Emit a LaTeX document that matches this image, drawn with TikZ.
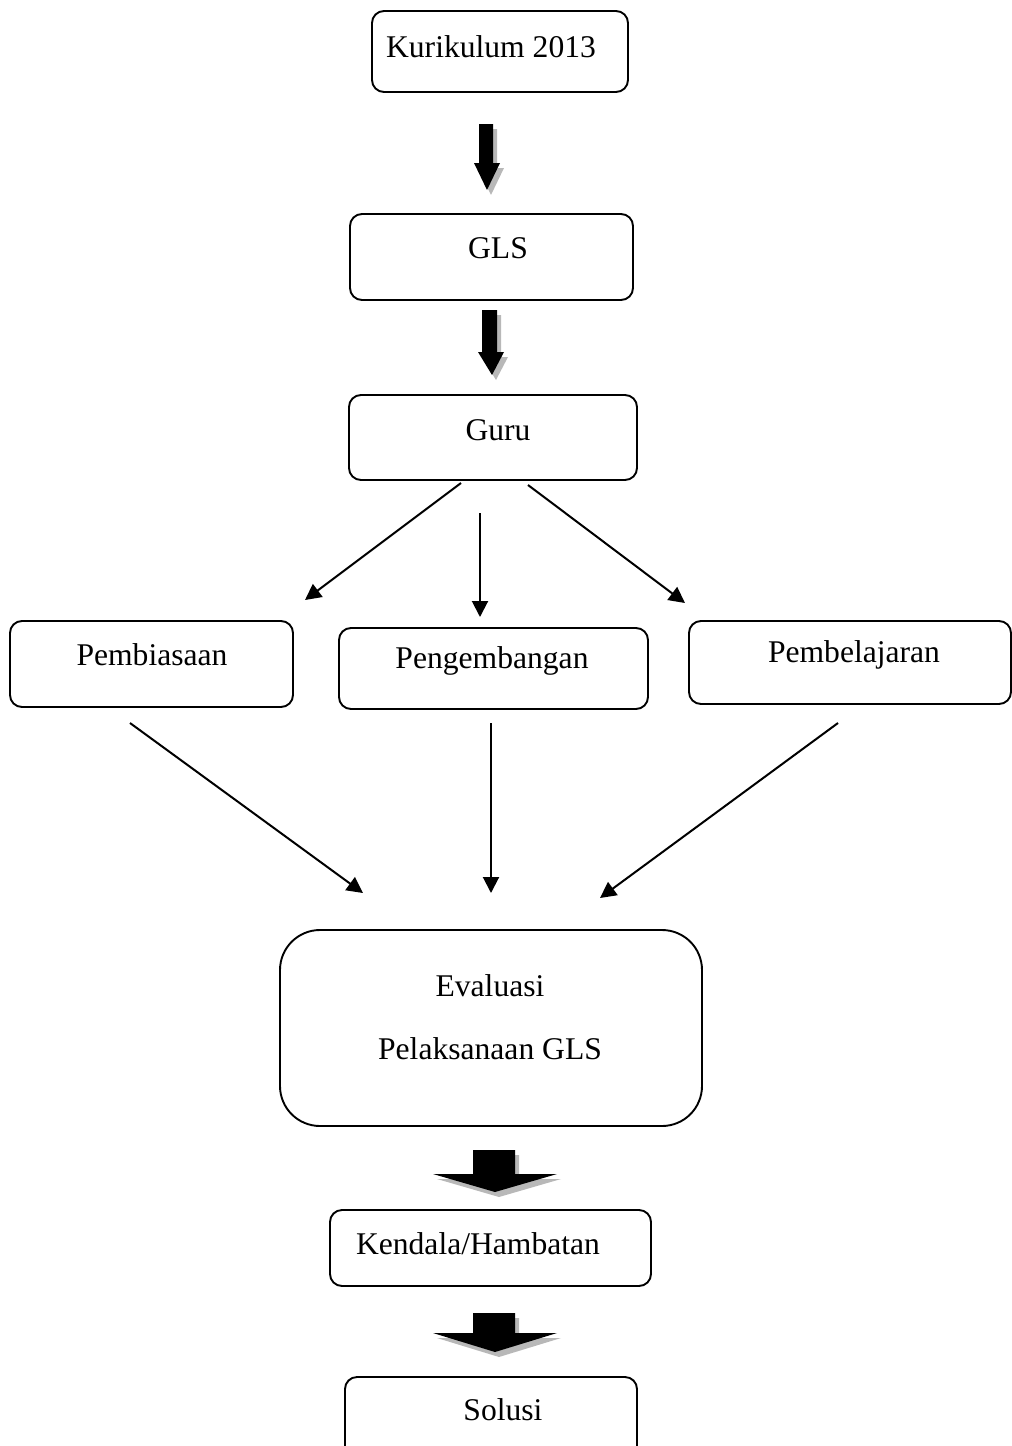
\documentclass[tikz,border=0pt]{standalone}
\usepackage{fontspec}
\setmainfont{Liberation Serif}
\usetikzlibrary{arrows.meta}
\tikzset{
  box/.style={draw, line width=1.9pt, rounded corners=12pt, inner sep=0pt},
  bigbox/.style={draw, line width=1.9pt, rounded corners=40pt, inner sep=0pt},
  txt/.style={inner sep=0pt, font=\fontsize{31.6}{38}\selectfont},
  thin/.style={line width=2pt, -{Triangle[length=16pt,width=16pt]}},
  blockfill/.style={fill=black},
  blockshadow/.style={fill=black!28},
}
\begin{document}
\begin{tikzpicture}[x=1pt,y=-1pt]
\useasboundingbox (0,0) rectangle (1012,1446);
\clip (0,0) rectangle (1012,1446);
% boxes
\node[box, minimum width=256pt, minimum height=81pt] (kur) at (500,51.5) {};
\node[txt] (kurt) at (491,47) {Kurikulum 2013};
\node[box, minimum width=283pt, minimum height=86pt] (gls) at (491.5,257) {};
\node[txt] (glst) at (498,248) {GLS};
\node[box, minimum width=288pt, minimum height=85pt] (guru) at (493,437.5) {};
\node[txt] (gurut) at (498,430) {Guru};
\node[box, minimum width=283pt, minimum height=86pt] (pbi) at (151.5,664) {};
\node[txt] (pbit) at (152,655) {Pembiasaan};
\node[box, minimum width=309pt, minimum height=81pt] (pge) at (493.5,668.5) {};
\node[txt] (pget) at (492,661) {Pengembangan};
\node[box, minimum width=322pt, minimum height=83pt] (pbl) at (850,662.5) {};
\node[txt] (pblt) at (854,655) {Pembelajaran};
\node[bigbox, minimum width=422pt, minimum height=196pt] (eva) at (491,1028) {};
\node[txt] (evat1) at (490,986) {Evaluasi};
\node[txt] (evat2) at (490,1049) {Pelaksanaan GLS};
\node[box, minimum width=321pt, minimum height=76pt] (ken) at (490.5,1248) {};
\node[txt] (kent) at (478,1244) {Kendala/Hambatan};
\node[box, minimum width=292pt, minimum height=90pt] (sol) at (491,1422) {};
\node[txt] (solt) at (503,1410) {Solusi};
% block arrows
\foreach \dx/\dy/\st in {4/5/blockshadow,0/0/blockfill}{
  \fill[\st, shift={(\dx,\dy)}] (479,124) -- (493,124) -- (493,163) -- (500,163) -- (487,190) -- (474,163) -- (479,163) -- cycle;
  \fill[\st, shift={(\dx,\dy)}] (482,310) -- (497,310) -- (497,352) -- (504,352) -- (492,375) -- (478,352) -- (482,352) -- cycle;
  \fill[\st, shift={(\dx,\dy)}] (473,1150) -- (515,1150) -- (515,1174) -- (557,1174) -- (495,1192) -- (433,1174) -- (473,1174) -- cycle;
  \fill[\st, shift={(\dx,\dy)}] (473,1313) -- (515,1313) -- (515,1333) -- (557,1333) -- (495,1352) -- (433,1333) -- (473,1333) -- cycle;
}
% thin arrows
\coordinate (g1) at (461,483);
\coordinate (g2) at (480,513);
\coordinate (g3) at (528,485);
\coordinate (p1) at (305,600);
\coordinate (p2) at (480,617);
\coordinate (p3) at (685,603);
\coordinate (b1) at (130,723);
\coordinate (b2) at (491,723);
\coordinate (b3) at (838,723);
\coordinate (e1) at (363,893);
\coordinate (e2) at (491,893);
\coordinate (e3) at (600,898);
\draw[thin] (g1) -- (p1);
\draw[thin] (g2) -- (p2);
\draw[thin] (g3) -- (p3);
\draw[thin] (b1) -- (e1);
\draw[thin] (b2) -- (e2);
\draw[thin] (b3) -- (e3);
\end{tikzpicture}
\end{document}
